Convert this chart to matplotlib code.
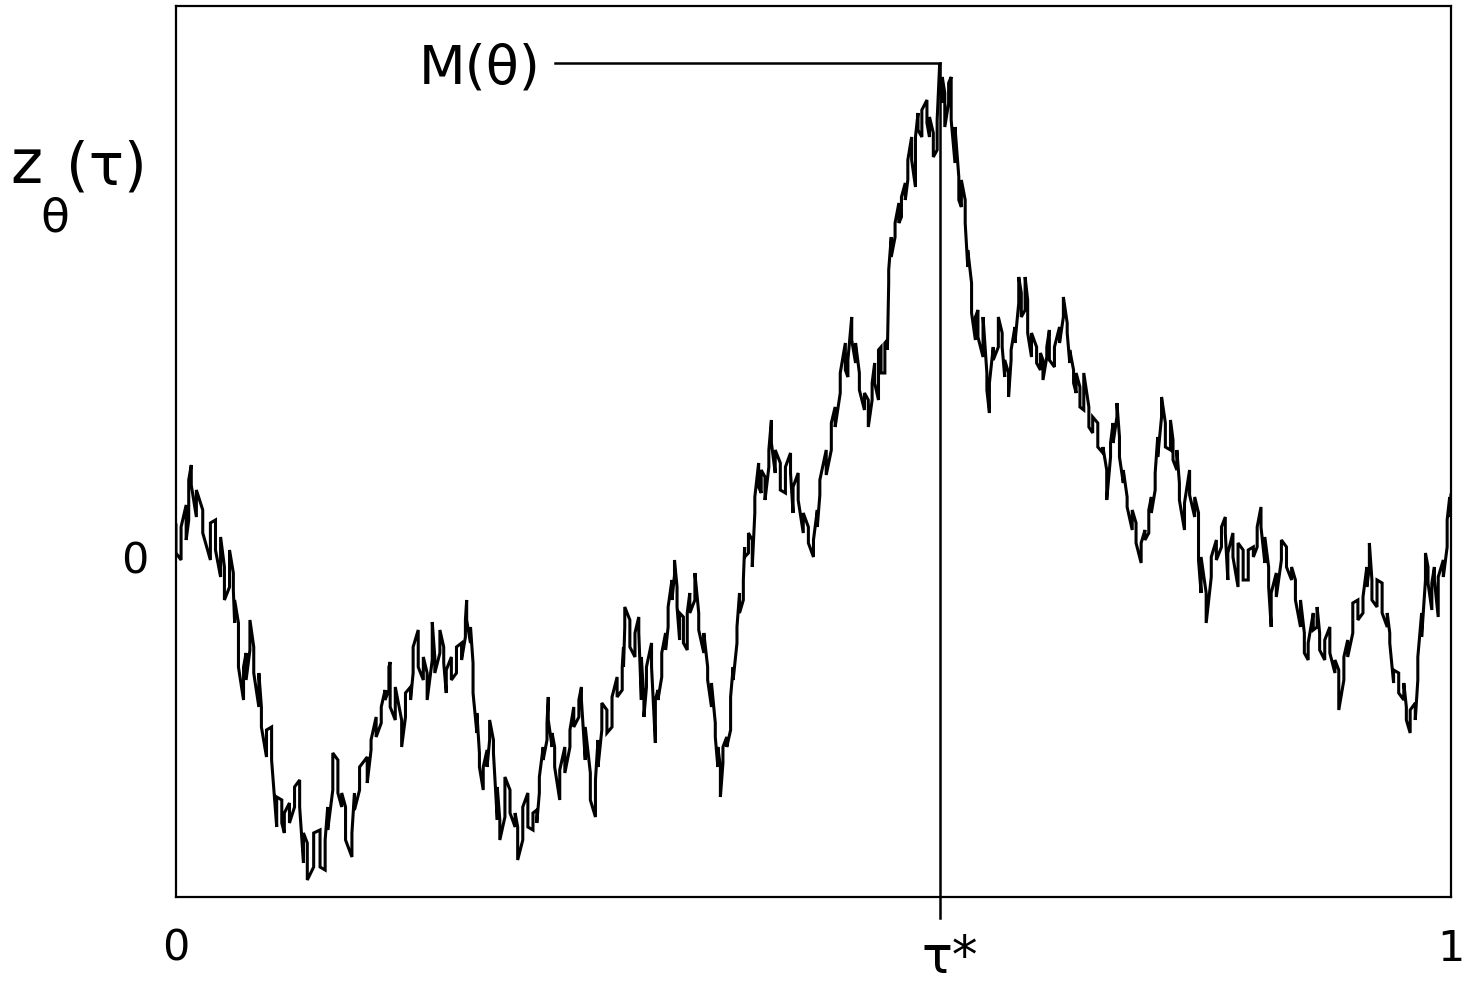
import numpy as np
import matplotlib
matplotlib.use("Agg")
import matplotlib.pyplot as plt

# path: time tau, upper and lower edge of the trace at that time
tau = [0.000, 0.004, 0.008, 0.010, 0.012, 0.016, 0.021, 0.027, 0.031, 0.035,
       0.038, 0.042, 0.045, 0.046, 0.049, 0.053, 0.055, 0.058, 0.061, 0.065,
       0.067, 0.071, 0.075, 0.079, 0.083, 0.085, 0.089, 0.093, 0.097, 0.100,
       0.103, 0.108, 0.113, 0.117, 0.119, 0.123, 0.127, 0.130, 0.133, 0.138,
       0.140, 0.144, 0.150, 0.153, 0.157, 0.161, 0.164, 0.167, 0.168, 0.172,
       0.177, 0.180, 0.184, 0.186, 0.190, 0.194, 0.197, 0.201, 0.203, 0.207,
       0.210, 0.212, 0.216, 0.220, 0.224, 0.227, 0.228, 0.231, 0.233, 0.236,
       0.238, 0.241, 0.244, 0.246, 0.249, 0.252, 0.254, 0.258, 0.262, 0.266,
       0.268, 0.272, 0.276, 0.280, 0.283, 0.285, 0.288, 0.291, 0.292, 0.295,
       0.297, 0.301, 0.305, 0.309, 0.312, 0.316, 0.318, 0.321, 0.325, 0.329,
       0.331, 0.334, 0.338, 0.342, 0.346, 0.350, 0.351, 0.352, 0.356, 0.360,
       0.363, 0.365, 0.367, 0.369, 0.373, 0.376, 0.378, 0.381, 0.384, 0.386,
       0.389, 0.391, 0.393, 0.395, 0.398, 0.401, 0.403, 0.407, 0.410, 0.414,
       0.417, 0.420, 0.423, 0.425, 0.427, 0.429, 0.432, 0.435, 0.437, 0.440,
       0.442, 0.445, 0.446, 0.449, 0.452, 0.454, 0.457, 0.459, 0.462, 0.465,
       0.467, 0.470, 0.474, 0.478, 0.482, 0.484, 0.488, 0.492, 0.496, 0.500,
       0.503, 0.505, 0.510, 0.514, 0.517, 0.521, 0.525, 0.527, 0.530, 0.533,
       0.536, 0.540, 0.543, 0.546, 0.548, 0.551, 0.553, 0.556, 0.558, 0.559,
       0.561, 0.564, 0.567, 0.569, 0.572, 0.574, 0.577, 0.580, 0.582, 0.585,
       0.589, 0.591, 0.594, 0.597, 0.599, 0.601, 0.603, 0.606, 0.608, 0.611,
       0.614, 0.616, 0.619, 0.621, 0.624, 0.627, 0.629, 0.633, 0.636, 0.638,
       0.641, 0.645, 0.648, 0.650, 0.653, 0.655, 0.658, 0.661, 0.663, 0.666,
       0.668, 0.671, 0.675, 0.678, 0.680, 0.683, 0.685, 0.689, 0.693, 0.696,
       0.699, 0.701, 0.704, 0.706, 0.709, 0.712, 0.716, 0.719, 0.723, 0.727,
       0.730, 0.733, 0.735, 0.738, 0.740, 0.743, 0.746, 0.750, 0.753, 0.757,
       0.760, 0.763, 0.765, 0.768, 0.770, 0.773, 0.776, 0.780, 0.782, 0.785,
       0.787, 0.791, 0.795, 0.799, 0.802, 0.804, 0.808, 0.812, 0.816, 0.820,
       0.823, 0.825, 0.829, 0.833, 0.837, 0.841, 0.845, 0.848, 0.851, 0.854,
       0.857, 0.859, 0.863, 0.867, 0.871, 0.875, 0.878, 0.882, 0.885, 0.888,
       0.892, 0.895, 0.897, 0.901, 0.905, 0.909, 0.912, 0.916, 0.919, 0.923,
       0.927, 0.931, 0.934, 0.936, 0.938, 0.942, 0.946, 0.950, 0.952, 0.955,
       0.959, 0.963, 0.965, 0.968, 0.972, 0.974, 0.977, 0.980, 0.982, 0.985,
       0.987, 0.990, 0.994, 0.997, 0.999, 1.000]

z_hi = [0.32, 0.30, 0.52, 0.77, 0.92, 0.67, 0.47, 0.34, 0.37, 0.20,
        -0.10, 0.07, -0.16, -0.43, -0.66, -1.10, -0.96, -0.63, -0.90, -1.16,
        -1.50, -1.73, -1.70, -2.40, -2.43, -2.56, -2.46, -2.30, -2.23, -2.76,
        -2.86, -2.76, -2.73, -2.83, -2.50, -1.96, -2.03, -2.36, -2.50, -2.76,
        -2.36, -2.10, -2.00, -1.83, -1.60, -1.50, -1.33, -1.10, -1.05, -1.30,
        -1.63, -1.36, -1.30, -0.90, -0.73, -1.00, -1.16, -0.65, -1.00, -0.73,
        -0.90, -1.13, -1.00, -0.90, -0.86, -0.63, -0.43, -0.70, -1.06, -1.56,
        -1.96, -2.10, -1.93, -1.63, -1.83, -2.30, -2.63, -2.20, -2.33, -2.56,
        -2.70, -2.50, -2.36, -2.56, -2.53, -2.20, -1.90, -1.66, -1.40, -1.76,
        -1.90, -2.13, -1.90, -1.73, -1.50, -1.43, -1.30, -1.70, -2.16, -2.23,
        -1.83, -1.46, -1.53, -1.40, -1.20, -1.10, -0.90, -0.50, -0.63, -0.76,
        -0.60, -1.00, -1.43, -1.10, -0.86, -1.43, -1.33, -0.96, -0.76, -0.50,
        -0.23, -0.03, -0.30, -0.56, -0.60, -0.56, -0.36, -0.16, -0.56, -0.76,
        -1.10, -1.26, -1.66, -1.90, -2.10, -1.90, -1.80, -1.40, -1.10, -0.70,
        -0.36, -0.23, 0.10, 0.24, 0.17, 0.60, 0.94, 0.87, 0.80, 1.07,
        1.37, 1.07, 0.94, 0.90, 1.04, 0.70, 0.84, 0.44, 0.30, 0.17,
        0.47, 0.77, 1.07, 1.34, 1.50, 1.84, 2.14, 1.97, 2.40, 2.14,
        1.84, 1.64, 1.57, 1.74, 1.94, 2.07, 2.10, 2.14, 2.17, 2.87,
        3.20, 3.34, 3.54, 3.60, 3.74, 3.97, 4.20, 4.20, 4.44, 4.47,
        4.57, 4.40, 4.24, 4.37, 4.94, 4.80, 4.64, 4.74, 4.80, 4.30,
        3.80, 3.77, 3.57, 3.07, 2.74, 2.40, 2.47, 2.40, 1.84, 1.74,
        2.10, 2.40, 2.24, 1.97, 1.84, 2.07, 2.30, 2.80, 2.64, 2.80,
        2.57, 2.24, 2.10, 2.04, 1.97, 2.10, 2.27, 2.10, 2.30, 2.60,
        2.34, 2.07, 1.87, 1.84, 1.70, 1.84, 1.50, 1.40, 1.34, 1.10,
        0.87, 1.14, 1.34, 1.54, 1.20, 0.87, 0.60, 0.47, 0.34, 0.14,
        0.27, 0.47, 0.60, 0.84, 1.20, 1.60, 1.34, 1.37, 1.17, 1.07,
        0.74, 0.54, 0.87, 0.60, 0.44, 0.00, -0.36, 0.00, 0.17, 0.30,
        0.40, 0.04, 0.24, 0.14, 0.07, 0.07, 0.10, 0.30, 0.50, 0.20,
        -0.10, -0.36, -0.16, 0.17, 0.10, -0.10, -0.23, -0.43, -0.76, -0.86,
        -0.56, -0.50, -0.76, -0.83, -0.70, -1.03, -1.13, -1.00, -0.83, -0.46,
        -0.43, -0.40, -0.10, 0.14, -0.23, -0.23, -0.26, -0.56, -0.76, -1.13,
        -1.16, -1.26, -1.50, -1.53, -1.46, -1.00, -0.56, 0.04, -0.10, -0.26,
        -0.10, -0.20, -0.03, 0.37, 0.60, 0.62]

z_lo = [0.04, -0.03, 0.17, 0.37, 0.72, 0.40, 0.24, -0.03, 0.07, -0.20,
        -0.43, -0.30, -0.33, -0.66, -1.10, -1.43, -1.23, -0.93, -1.16, -1.50,
        -1.70, -2.00, -2.03, -2.70, -2.66, -2.76, -2.66, -2.50, -2.50, -3.06,
        -3.23, -3.10, -3.10, -3.13, -2.73, -2.33, -2.36, -2.50, -2.83, -3.00,
        -2.53, -2.33, -2.26, -1.93, -1.80, -1.66, -1.43, -1.33, -1.50, -1.63,
        -1.90, -1.60, -1.43, -1.16, -1.10, -1.23, -1.43, -1.03, -1.16, -0.96,
        -1.06, -1.36, -1.23, -1.16, -1.03, -0.80, -0.63, -0.86, -1.36, -1.76,
        -2.10, -2.33, -2.10, -1.83, -1.96, -2.63, -2.83, -2.60, -2.56, -2.70,
        -3.03, -2.83, -2.70, -2.73, -2.66, -2.36, -2.03, -1.83, -1.63, -1.90,
        -2.10, -2.43, -2.16, -1.90, -1.70, -1.60, -1.43, -2.03, -2.43, -2.60,
        -2.10, -1.73, -1.76, -1.70, -1.40, -1.33, -1.10, -0.70, -0.90, -1.00,
        -0.76, -1.43, -1.60, -1.30, -1.10, -1.86, -1.43, -1.20, -0.93, -0.70,
        -0.43, -0.18, -0.50, -0.83, -0.86, -0.93, -0.56, -0.43, -0.73, -0.96,
        -1.23, -1.50, -1.80, -2.10, -2.40, -2.06, -1.90, -1.73, -1.23, -0.86,
        -0.56, -0.43, 0.00, 0.04, -0.10, 0.44, 0.70, 0.64, 0.57, 0.90,
        1.14, 0.84, 0.67, 0.64, 0.84, 0.44, 0.57, 0.24, 0.14, 0.00,
        0.30, 0.62, 0.82, 1.07, 1.30, 1.64, 1.87, 1.80, 2.17, 1.94,
        1.67, 1.47, 1.30, 1.57, 1.74, 1.57, 1.84, 1.84, 2.07, 2.74,
        3.00, 3.20, 3.34, 3.40, 3.57, 3.77, 3.97, 3.70, 4.27, 4.20,
        4.34, 4.20, 4.00, 4.07, 4.80, 4.54, 4.30, 4.54, 4.37, 3.94,
        3.57, 3.50, 3.34, 2.90, 2.44, 2.17, 2.20, 2.00, 1.67, 1.44,
        1.97, 2.10, 2.10, 1.80, 1.60, 1.97, 2.14, 2.54, 2.40, 2.47,
        2.24, 2.00, 1.94, 1.87, 1.77, 2.00, 1.97, 1.90, 2.14, 2.40,
        2.24, 1.94, 1.74, 1.64, 1.50, 1.47, 1.30, 1.24, 1.10, 1.04,
        0.57, 1.00, 1.14, 1.40, 1.00, 0.74, 0.50, 0.27, 0.14, -0.06,
        0.17, 0.24, 0.44, 0.67, 1.00, 1.40, 1.10, 1.07, 0.97, 0.87,
        0.57, 0.27, 0.62, 0.40, -0.03, -0.36, -0.66, -0.20, -0.03, 0.10,
        0.24, -0.23, 0.00, -0.30, -0.23, -0.23, 0.00, 0.10, 0.30, -0.06,
        -0.30, -0.70, -0.40, -0.03, -0.10, -0.23, -0.43, -0.70, -0.96, -1.03,
        -0.73, -0.70, -0.93, -1.03, -0.96, -1.16, -1.53, -1.23, -1.00, -0.76,
        -0.63, -0.56, -0.30, -0.10, -0.43, -0.50, -0.56, -0.70, -0.86, -1.26,
        -1.36, -1.43, -1.63, -1.76, -1.63, -1.23, -0.80, -0.23, -0.26, -0.53,
        -0.23, -0.60, -0.20, 0.10, 0.40, 0.47]

tau_star = 0.599   # time of the maximum
M_theta = 4.94     # maximum value

# build a jagged trace: vertical strokes between the edges, alternating direction
t = np.repeat(np.array(tau), 2)
pairs = np.column_stack([z_hi, z_lo])
pairs[1::2] = pairs[1::2, ::-1]
z = pairs.ravel()

fig = plt.figure(figsize=(14.64, 9.83), dpi=100)
ax = fig.add_axes([0.1202, 0.0875, 0.8709, 0.9064])
ax.plot(t, z, color='black', lw=2.2, solid_joinstyle='miter')

# marker lines for the maximum
ax.plot([0.297, tau_star], [M_theta, M_theta], color='black', lw=1.8)
ax.plot([tau_star, tau_star], [M_theta, -3.61], color='black', lw=1.8, clip_on=False)

ax.set_xlim(0, 1)
ax.set_ylim(-3.40, 5.51)
for s in ax.spines.values():
    s.set_linewidth(1.6)
ax.set_xticks([0, 1])
ax.set_xticklabels(['0', '1'])
ax.set_yticks([0])
ax.set_yticklabels(['0'])
ax.tick_params(axis='both', length=0, labelsize=31)
ax.tick_params(axis='x', pad=22)
ax.tick_params(axis='y', pad=20)

ax.annotate('τ*', xy=(tau_star, -3.40), xytext=(-13, -55), textcoords='offset points',
            ha='left', va='baseline', fontsize=37)
fig.text(0.3695, 0.9150, 'M(θ)', ha='right', va='baseline', fontsize=39)

# y label z_θ(τ)
fig.text(0.0070, 0.8138, 'z', ha='left', va='baseline', fontsize=44)
fig.text(0.0375, 0.7640, 'θ', ha='center', va='baseline', fontsize=34)
fig.text(0.0450, 0.8128, '(τ)', ha='left', va='baseline', fontsize=42)

fig.savefig('out.png', dpi=100)
